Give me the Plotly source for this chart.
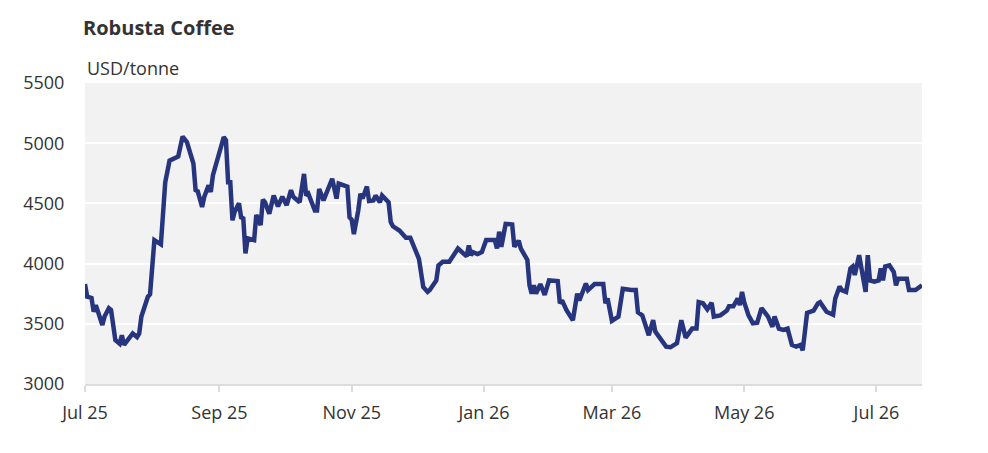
import plotly.graph_objects as go

OUTPUT_FILE = 'out.html'

TITLE = 'Robusta Coffee'
UNIT = 'USD/tonne'

DATES = [
    '2025-07-01', '2025-07-02', '2025-07-04', '2025-07-05', '2025-07-06', '2025-07-09', '2025-07-10',
    '2025-07-12', '2025-07-13', '2025-07-15', '2025-07-17', '2025-07-18', '2025-07-19', '2025-07-23',
    '2025-07-25', '2025-07-26', '2025-07-27', '2025-07-30', '2025-07-31', '2025-08-02', '2025-08-05',
    '2025-08-07', '2025-08-09', '2025-08-11', '2025-08-13', '2025-08-15', '2025-08-17', '2025-08-20',
    '2025-08-21', '2025-08-22', '2025-08-24', '2025-08-25', '2025-08-27', '2025-08-28', '2025-08-29',
    '2025-09-03', '2025-09-04', '2025-09-05', '2025-09-06', '2025-09-07', '2025-09-08', '2025-09-10',
    '2025-09-11', '2025-09-12', '2025-09-13', '2025-09-14', '2025-09-16', '2025-09-17', '2025-09-18',
    '2025-09-20', '2025-09-21', '2025-09-22', '2025-09-24', '2025-09-26', '2025-09-28', '2025-09-30',
    '2025-10-02', '2025-10-04', '2025-10-05', '2025-10-08', '2025-10-10', '2025-10-11', '2025-10-12',
    '2025-10-15', '2025-10-16', '2025-10-17', '2025-10-19', '2025-10-22', '2025-10-23', '2025-10-25',
    '2025-10-26', '2025-10-30', '2025-10-31', '2025-11-01', '2025-11-02', '2025-11-04', '2025-11-05',
    '2025-11-06', '2025-11-08', '2025-11-09', '2025-11-11', '2025-11-12', '2025-11-14', '2025-11-15',
    '2025-11-18', '2025-11-19', '2025-11-20', '2025-11-23', '2025-11-26', '2025-11-28', '2025-11-29',
    '2025-12-01', '2025-12-02', '2025-12-04', '2025-12-06', '2025-12-07', '2025-12-10', '2025-12-11',
    '2025-12-13', '2025-12-16', '2025-12-19', '2025-12-20', '2025-12-24', '2025-12-25', '2025-12-26',
    '2025-12-27', '2025-12-29', '2025-12-31', '2026-01-02', '2026-01-06', '2026-01-07', '2026-01-08',
    '2026-01-09', '2026-01-11', '2026-01-14', '2026-01-15', '2026-01-17', '2026-01-18', '2026-01-21',
    '2026-01-22', '2026-01-23', '2026-01-24', '2026-01-25', '2026-01-27', '2026-01-29', '2026-01-31',
    '2026-02-04', '2026-02-05', '2026-02-06', '2026-02-08', '2026-02-11', '2026-02-13', '2026-02-14',
    '2026-02-17', '2026-02-18', '2026-02-21', '2026-02-25', '2026-02-26', '2026-02-27', '2026-03-01',
    '2026-03-04', '2026-03-06', '2026-03-10', '2026-03-12', '2026-03-13', '2026-03-15', '2026-03-18',
    '2026-03-20', '2026-03-21', '2026-03-24', '2026-03-26', '2026-03-28', '2026-03-31', '2026-04-02',
    '2026-04-04', '2026-04-07', '2026-04-09', '2026-04-10', '2026-04-12', '2026-04-14', '2026-04-16',
    '2026-04-17', '2026-04-20', '2026-04-23', '2026-04-24', '2026-04-26', '2026-04-28', '2026-04-29',
    '2026-04-30', '2026-05-01', '2026-05-03', '2026-05-05', '2026-05-07', '2026-05-09', '2026-05-12',
    '2026-05-14', '2026-05-15', '2026-05-17', '2026-05-19', '2026-05-21', '2026-05-23', '2026-05-25',
    '2026-05-27', '2026-05-28', '2026-05-30', '2026-06-02', '2026-06-04', '2026-06-05', '2026-06-07',
    '2026-06-08', '2026-06-11', '2026-06-12', '2026-06-14', '2026-06-15', '2026-06-17', '2026-06-19',
    '2026-06-20', '2026-06-21', '2026-06-23', '2026-06-24', '2026-06-26', '2026-06-27', '2026-06-28',
    '2026-06-30', '2026-07-02', '2026-07-03', '2026-07-04', '2026-07-05', '2026-07-07', '2026-07-09',
    '2026-07-10', '2026-07-11', '2026-07-15', '2026-07-16', '2026-07-19', '2026-07-22',
]

PRICES = [
    3830, 3725, 3715, 3600, 3655, 3490, 3560,
    3630, 3615, 3365, 3335, 3405, 3325, 3420,
    3390, 3420, 3560, 3725, 3745, 4195, 4160,
    4675, 4855, 4875, 4890, 5055, 5010, 4830,
    4610, 4600, 4470, 4555, 4650, 4595, 4735,
    5050, 5025, 4675, 4675, 4360, 4430, 4500,
    4385, 4375, 4085, 4210, 4200, 4195, 4405,
    4320, 4530, 4510, 4415, 4565, 4475, 4555,
    4485, 4610, 4555, 4510, 4745, 4565, 4580,
    4440, 4440, 4620, 4525, 4675, 4705, 4540,
    4665, 4640, 4385, 4365, 4245, 4440, 4580,
    4540, 4640, 4520, 4525, 4565, 4510, 4565,
    4510, 4345, 4310, 4275, 4215, 4215, 4165,
    4085, 4040, 3805, 3765, 3780, 3860, 3985,
    4015, 4015, 4095, 4125, 4060, 4150, 4070,
    4095, 4080, 4095, 4195, 4195, 4125, 4265,
    4140, 4330, 4325, 4140, 4190, 4125, 4030,
    3820, 3750, 3820, 3750, 3830, 3740, 3860,
    3855, 3670, 3695, 3615, 3530, 3750, 3695,
    3835, 3780, 3830, 3830, 3670, 3710, 3525,
    3560, 3790, 3780, 3780, 3595, 3570, 3405,
    3530, 3435, 3350, 3310, 3305, 3340, 3530,
    3385, 3460, 3460, 3680, 3670, 3620, 3675,
    3560, 3570, 3610, 3645, 3645, 3710, 3655,
    3765, 3680, 3570, 3505, 3510, 3630, 3560,
    3475, 3560, 3460, 3450, 3460, 3325, 3310,
    3325, 3280, 3590, 3610, 3670, 3680, 3630,
    3600, 3575, 3710, 3810, 3780, 3765, 3960,
    3975, 3905, 4070, 3960, 3765, 4070, 3860,
    3850, 3860, 3960, 3860, 3975, 3985, 3930,
    3820, 3875, 3875, 3780, 3780, 3820,
]

X_RANGE = ['2025-07-01', '2026-07-22']
Y_RANGE = [3000, 5500]

FONT = 'Open Sans'
TEXT_COLOR = '#333333'
LINE_COLOR = '#27357e'

fig = go.Figure()
fig.add_trace(go.Scatter(
    x=DATES,
    y=PRICES,
    mode='lines',
    line=dict(color=LINE_COLOR, width=4.5),
    hovertemplate='%{x|%d %b %Y}<br>%{y:,.0f} USD/tonne<extra></extra>',
    showlegend=False,
))

# the page body adds 8px around the figure, so margins are trimmed by that
fig.update_layout(
    width=988, height=453,
    margin=dict(l=77, r=74, t=75, b=77),
    paper_bgcolor='white',
    plot_bgcolor='#f2f2f2',
    font=dict(family=FONT, size=18, color=TEXT_COLOR),
    title=dict(
        text=f'<b>{TITLE}</b>',
        font=dict(family=FONT, size=20, color=TEXT_COLOR),
        x=75 / 988, xanchor='left', xref='container',
        y=1 - 20 / 453, yanchor='middle', yref='container',
    ),
    xaxis=dict(
        type='date',
        range=X_RANGE,
        tick0='2025-07-01',
        dtick='M2',
        tickformat='%b %y',
        showgrid=False,
        zeroline=False,
        showline=True,
        linecolor='#dcdcdc',
        linewidth=2,
        ticks='outside',
        ticklen=6,
        tickwidth=2,
        tickcolor='#dcdcdc',
        ticklabelstandoff=5,
        tickfont=dict(size=18, color=TEXT_COLOR),
    ),
    yaxis=dict(
        range=Y_RANGE,
        dtick=500,
        showgrid=True,
        gridcolor='white',
        gridwidth=2,
        zeroline=False,
        showline=False,
        ticks='outside',
        ticklen=16,
        tickcolor='rgba(0,0,0,0)',
        tickfont=dict(size=18, color=TEXT_COLOR),
    ),
    annotations=[dict(
        text=UNIT,
        xref='paper', yref='paper',
        x=0, y=1,
        xanchor='left', yanchor='bottom',
        xshift=0, yshift=1,
        showarrow=False,
        font=dict(family=FONT, size=18, color=TEXT_COLOR),
    )],
)

fig.write_html(OUTPUT_FILE)
